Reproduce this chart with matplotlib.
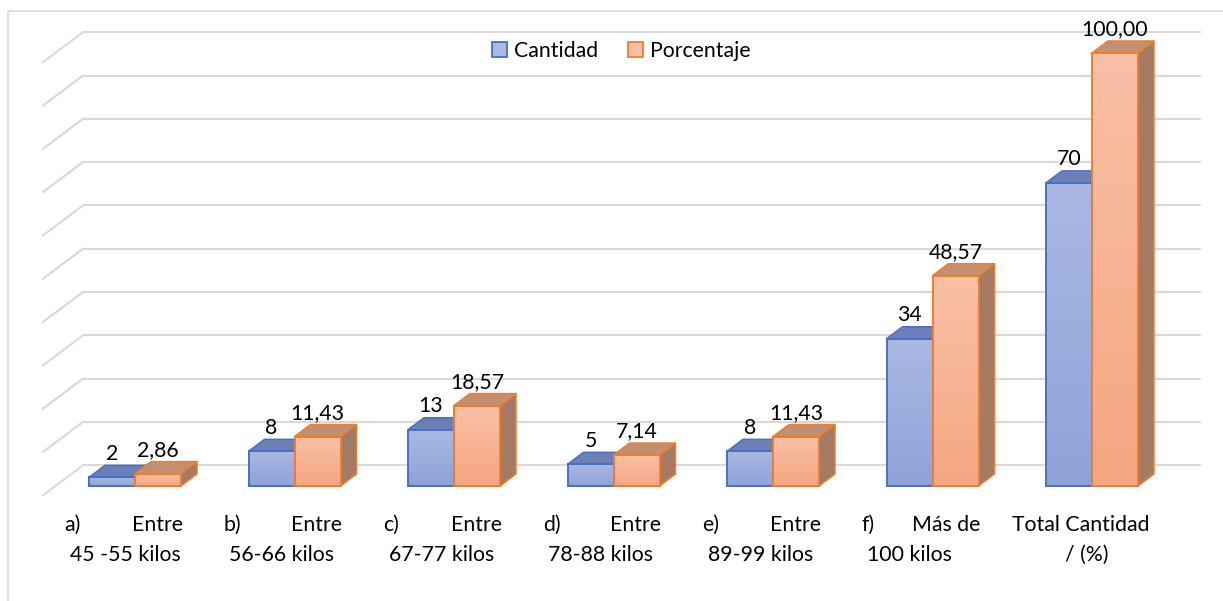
import matplotlib
matplotlib.use("Agg")
import matplotlib.pyplot as plt
import numpy as np
from matplotlib.patches import Polygon, Rectangle, Patch
from matplotlib.colors import LinearSegmentedColormap

# ---------------- data ----------------
categories = ["a)\tEntre\n45 -55 kilos",
              "b)\tEntre\n56-66 kilos",
              "c)\tEntre\n67-77 kilos",
              "d)\tEntre\n78-88 kilos",
              "e)\tEntre\n89-99 kilos",
              "f)\tMás de\n100 kilos",
              "Total Cantidad\n/ (%)"]
cantidad = [2, 8, 13, 5, 8, 34, 70]
porcentaje = [2.86, 11.43, 18.57, 7.14, 11.43, 48.57, 100.00]
cantidad_labels = ["2", "8", "13", "5", "8", "34", "70"]
porcentaje_labels = ["2,86", "11,43", "18,57", "7,14", "11,43", "48,57", "100,00"]
series_names = ["Cantidad", "Porcentaje"]
grid_values = list(range(0, 101, 10))

# ---------------- style ----------------
plt.rcParams['font.family'] = ['Lato', 'DejaVu Sans']
FS = 15.3
W, H = 1223, 601
fig = plt.figure(figsize=(W / 100, H / 100), dpi=100)
ax = fig.add_axes([0, 0, 1, 1])
ax.set_axis_off()

px_per_cat = 159.5
px_per_unit = 4.33
origin_x_px = 135
origin_y_px = 486
xlim = (-origin_x_px / px_per_cat, (W - origin_x_px) / px_per_cat)
ylim = (-(H - origin_y_px) / px_per_unit, origin_y_px / px_per_unit)

bw = 46 / px_per_cat            # bar width (category units)
ddx = 16 / px_per_cat           # bar depth x
ddy = 12 / px_per_unit          # bar depth y
wall_dx = 40 / px_per_cat       # floor depth
wall_dy = 30 / px_per_unit
back_off = 4.8                  # back wall vertical offset from bar front plane
wall_left = -52 / px_per_cat    # back wall left edge (relative to first group)
wall_right = (1201 - origin_x_px) / px_per_cat

grid_col = "#D9D9D9"
for v in grid_values:
    yb = v + back_off
    ax.plot([wall_left, wall_right], [yb, yb], color=grid_col, lw=1.5,
            zorder=1, solid_capstyle='butt')
    ax.plot([wall_left - wall_dx, wall_left], [yb - wall_dy, yb],
            color=grid_col, lw=1.5, zorder=1)

series_style = [
    dict(top="#AAB8E2", bottom="#8FA3DA", lid="#6C7FB6", side="#6478AD", edge="#4472C4"),
    dict(top="#F9C0A6", bottom="#F5A682", lid="#C48F70", side="#A57A63", edge="#ED7D31"),
]

z = [3]


def draw_bar(xl, h, st):
    xr = xl + bw
    zz = z[0]
    side = Polygon([(xr, 0), (xr + ddx, ddy), (xr + ddx, h + ddy), (xr, h)],
                   closed=True, facecolor=st["side"], edgecolor=st["edge"],
                   lw=1.1, zorder=zz, joinstyle='round')
    ax.add_patch(side)
    lid = Polygon([(xl, h), (xl + ddx, h + ddy), (xr + ddx, h + ddy), (xr, h)],
                  closed=True, facecolor=st["lid"], edgecolor=st["edge"],
                  lw=1.1, zorder=zz + 0.1, joinstyle='round')
    ax.add_patch(lid)
    cmap = LinearSegmentedColormap.from_list("g", [st["bottom"], st["top"]])
    grad = np.linspace(0, 1, 128).reshape(-1, 1)
    im = ax.imshow(grad, cmap=cmap, extent=[xl, xr, 0, h], origin='lower',
                   aspect='auto', zorder=zz + 0.2, interpolation='bilinear')
    clip = Rectangle((xl, 0), bw, h, transform=ax.transData)
    im.set_clip_path(clip)
    front = Rectangle((xl, 0), bw, h, facecolor='none', edgecolor=st["edge"],
                      lw=1.4, zorder=zz + 0.3, joinstyle='miter')
    ax.add_patch(front)
    z[0] += 1


for i in range(len(categories)):
    for s, (vals, labs) in enumerate([(cantidad, cantidad_labels),
                                      (porcentaje, porcentaje_labels)]):
        xl = i - bw + s * bw
        draw_bar(xl, vals[i], series_style[s])
        ax.annotate(labs[i], (xl + bw / 2, vals[i]), xytext=(0, 17),
                    textcoords='offset points', ha='center', va='center',
                    fontsize=FS, color='black', zorder=50)

# category labels
for i, lab in enumerate(categories):
    l1, l2 = lab.split("\n")
    if "\t" in l1:
        pre, word = l1.split("\t")
        ax.annotate(pre, (i, 0), xytext=(-51, -28.3), textcoords='offset points',
                    ha='left', va='center', fontsize=FS)
        ax.annotate(word, (i, 0), xytext=(34.5, -28.3), textcoords='offset points',
                    ha='right', va='center', fontsize=FS)
        ax.annotate(l2, (i, 0), xytext=(-47, -49.6), textcoords='offset points',
                    ha='left', va='center', fontsize=FS)
    else:
        ax.annotate(l1, (i, 0), xytext=(-8, -28.3), textcoords='offset points',
                    ha='center', va='center', fontsize=FS)
        ax.annotate(l2, (i, 0), xytext=(-4, -49.6), textcoords='offset points',
                    ha='center', va='center', fontsize=FS)

# legend
handles = [Patch(facecolor=series_style[k]["top"], edgecolor=series_style[k]["edge"],
                 lw=1.3, label=series_names[k]) for k in range(2)]
ax.legend(handles=handles, ncol=2, loc='center', bbox_to_anchor=(0.508, 0.915),
          frameon=False, fontsize=FS, handlelength=0.7, handleheight=0.7,
          handletextpad=0.35, columnspacing=1.4, borderaxespad=0)

# outer border
ax.plot([8 / W, 8 / W, 1.0], [0.0, 1 - 11 / H, 1 - 11 / H], transform=ax.transAxes,
        color=grid_col, lw=1.2, zorder=0, clip_on=False)

ax.set_xlim(*xlim)
ax.set_ylim(*ylim)
fig.savefig("out.png", dpi=100)
